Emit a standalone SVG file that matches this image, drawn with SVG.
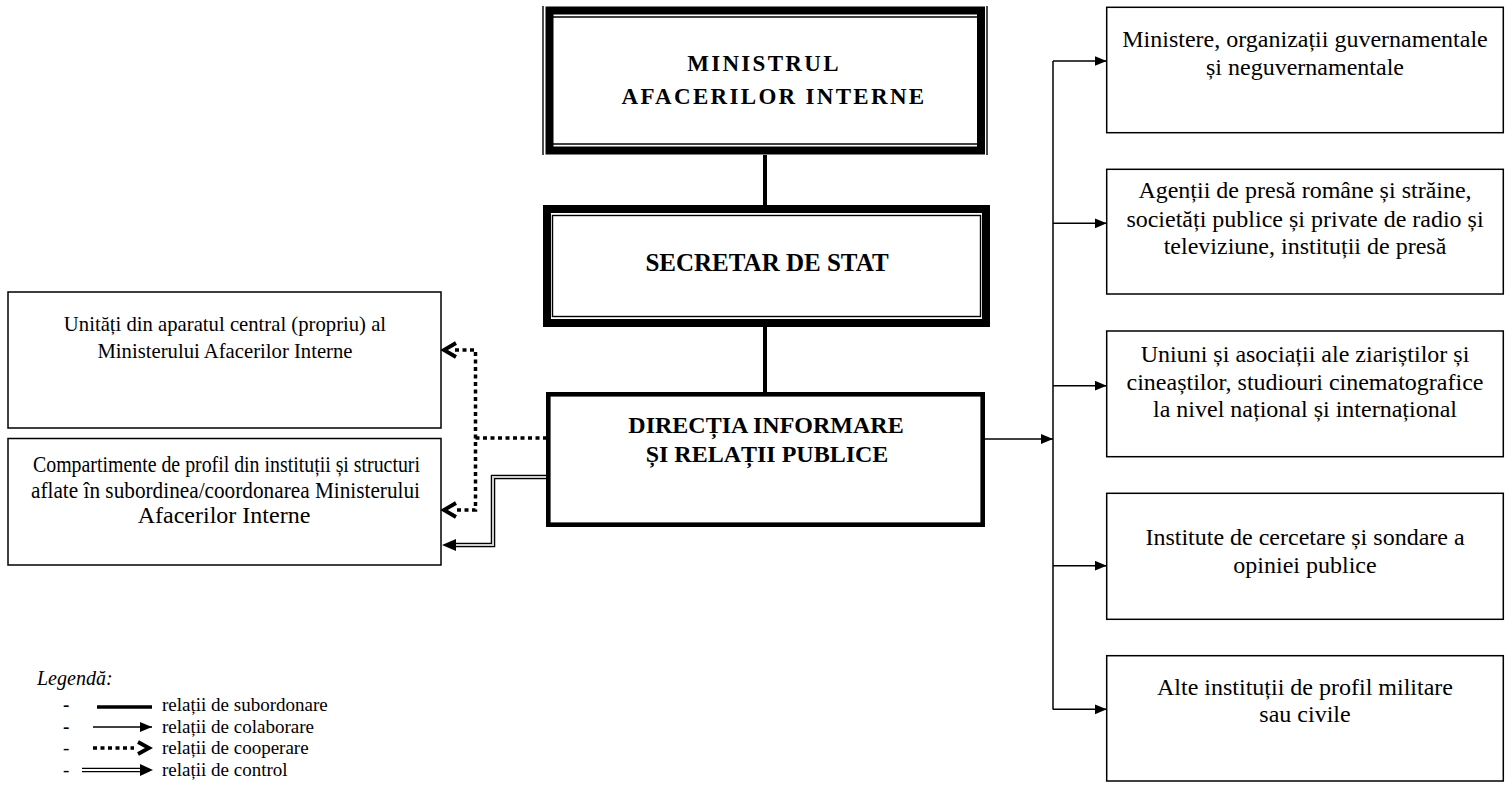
<svg xmlns="http://www.w3.org/2000/svg" width="1512" height="800" viewBox="0 0 1512 800">
<style>
  text { font-family: "Liberation Serif", "Times New Roman", serif; fill: #000; }
  .t { font-size: 24px; text-anchor: middle; }
  .tl { font-size: 20.7px; text-anchor: middle; }
  .b { font-weight: bold; text-anchor: middle; }
  .box { fill: #fff; stroke: #000; stroke-width: 1.5; }
  .thin { stroke: #000; stroke-width: 1.4; fill: none; }
  .thick { stroke: #000; fill: none; }
  .sub { stroke: #000; stroke-width: 4; fill: none; }
  .col { stroke: #000; stroke-width: 1.5; fill: none; }
  .dot { stroke: #000; stroke-width: 3.5; fill: none; stroke-dasharray: 4 3.5; }
  .chev { stroke: #000; stroke-width: 3.8; fill: none; stroke-linejoin: miter; }
  .dblo { stroke: #000; stroke-width: 4.5; fill: none; }
  .dbli { stroke: #cfcfcf; stroke-width: 2; fill: none; }
  .lg { font-size: 19px; }
</style>
<defs>
  <marker id="ah" markerUnits="userSpaceOnUse" markerWidth="13" markerHeight="11" refX="12" refY="5" orient="auto">
    <path d="M0,0 L12,5 L0,10 z" fill="#000"/>
  </marker>
</defs>
<rect width="1512" height="800" fill="#fff"/>

<g id="ministrul">
  <rect x="549.5" y="10.5" width="431.5" height="140" class="thick" stroke-width="8" fill="#fff"/>
  <line x1="543" y1="6" x2="543" y2="155" class="thin"/>
  <line x1="987" y1="6" x2="987" y2="155" class="thin"/>
  <line x1="553" y1="17" x2="977" y2="17" class="thin"/>
  <line x1="553" y1="144" x2="977" y2="144" class="thin"/>
  <text class="b" x="764" y="71" font-size="23" letter-spacing="2.3">MINISTRUL</text>
  <text class="b" x="774" y="104" font-size="23" letter-spacing="2.3">AFACERILOR INTERNE</text>
</g>

<g id="secretar">
  <rect x="547" y="209" width="439" height="114" class="thick" stroke-width="8" fill="#fff"/>
  <rect x="552.5" y="215.5" width="428" height="101" class="thin"/>
  <text class="b" x="767" y="271" font-size="25">SECRETAR DE STAT</text>
</g>

<g id="directia">
  <rect x="548.3" y="394.3" width="434.4" height="130.4" class="thick" stroke-width="4.6" fill="#fff"/>
  <text class="b" x="766" y="433" font-size="24">DIRECȚIA INFORMARE</text>
  <text class="b" x="767" y="462" font-size="24">ȘI RELAȚII PUBLICE</text>
</g>

<g id="unitati">
  <rect x="8" y="292" width="433" height="136" class="box"/>
  <text class="tl" x="225" y="331">Unități din aparatul central (propriu) al</text>
  <text class="tl" x="225" y="358">Ministerului Afacerilor Interne</text>
</g>

<g id="compartimente">
  <rect x="8" y="438.5" width="433" height="126.5" class="box"/>
  <text x="33" y="472" font-size="24" textLength="387" lengthAdjust="spacingAndGlyphs">Compartimente de profil din instituții și structuri</text>
  <text x="31" y="497.5" font-size="24" textLength="389" lengthAdjust="spacingAndGlyphs">aflate în subordinea/coordonarea Ministerului</text>
  <text class="t" x="224" y="523">Afacerilor Interne</text>
</g>

<g id="ministere">
  <rect x="1106.7" y="7.3" width="396.6" height="125.4" class="box"/>
  <text class="t" x="1305" y="47">Ministere, organizații guvernamentale</text>
  <text class="t" x="1305" y="75">și neguvernamentale</text>
</g>

<g id="agentii">
  <rect x="1106.7" y="169.3" width="396.6" height="124.7" class="box"/>
  <text class="t" x="1305" y="198">Agenții de presă române și străine,</text>
  <text class="t" x="1305" y="226.5">societăți publice și private de radio și</text>
  <text class="t" x="1305" y="254">televiziune, instituții de presă</text>
</g>

<g id="uniuni">
  <rect x="1106.7" y="331" width="396.6" height="125.7" class="box"/>
  <text class="t" x="1305" y="362">Uniuni și asociații ale ziariștilor și</text>
  <text class="t" x="1305" y="389.5">cineaștilor, studiouri cinematografice</text>
  <text class="t" x="1305" y="417">la nivel național și internațional</text>
</g>

<g id="institute">
  <rect x="1106.7" y="493.3" width="396.6" height="126" class="box"/>
  <text class="t" x="1305" y="545">Institute de cercetare și sondare a</text>
  <text class="t" x="1305" y="573">opiniei publice</text>
</g>

<g id="alte">
  <rect x="1106.7" y="655.7" width="396.6" height="125.3" class="box"/>
  <text class="t" x="1305" y="695">Alte instituții de profil militare</text>
  <text class="t" x="1305" y="722">sau civile</text>
</g>

<g id="connectors">
  <line x1="765" y1="155" x2="765" y2="205" class="sub"/>
  <line x1="765" y1="327" x2="765" y2="392" class="sub"/>
  <line x1="1053" y1="61" x2="1053" y2="709.5" class="col"/>
  <line x1="985" y1="439" x2="1053" y2="439" class="col" marker-end="url(#ah)"/>
  <line x1="1053" y1="61" x2="1106.7" y2="61" class="col" marker-end="url(#ah)"/>
  <line x1="1053" y1="223.3" x2="1106.7" y2="223.3" class="col" marker-end="url(#ah)"/>
  <line x1="1053" y1="385.7" x2="1106.7" y2="385.7" class="col" marker-end="url(#ah)"/>
  <line x1="1053" y1="565.7" x2="1106.7" y2="565.7" class="col" marker-end="url(#ah)"/>
  <line x1="1053" y1="709.3" x2="1106.7" y2="709.3" class="col" marker-end="url(#ah)"/>
  <path d="M455,350 H475.5 V510 H455" class="dot"/>
  <path d="M475.5,438 H546" class="dot"/>
  <polyline points="456,343 444,350 456,357" class="chev"/>
  <polyline points="456,503 444,510 456,517" class="chev"/>
  <path d="M546,477 H493 V545 H455" class="dblo"/>
  <path d="M546,477 H493 V545 H455" class="dbli"/>
  <path d="M442,545 L456,539 L456,551 z" fill="#000"/>
</g>

<g id="legend">
  <text x="37" y="685" font-size="20" font-style="italic">Legendă:</text>
  <text class="lg" x="63" y="711" font-weight="bold">-</text>
  <text class="lg" x="63" y="733" font-weight="bold">-</text>
  <text class="lg" x="63" y="754">-</text>
  <text class="lg" x="63" y="776">-</text>
  <line x1="97" y1="707" x2="152" y2="707" stroke="#000" stroke-width="3.5"/>
  <line x1="93" y1="727" x2="152" y2="727" class="col" marker-end="url(#ah)"/>
  <path d="M93,748 H134" class="dot" stroke-width="3" stroke-dasharray="3.5 3"/>
  <polyline points="138,742 149,748 138,754" class="chev"/>
  <line x1="82" y1="770" x2="141" y2="770" stroke="#000" stroke-width="4.5"/>
  <line x1="82" y1="770" x2="141" y2="770" stroke="#fff" stroke-width="1.8"/>
  <path d="M140,764 L153,770 L140,776 z" fill="#000"/>
  <text class="lg" x="162" y="711">relații de subordonare</text>
  <text class="lg" x="162" y="733">relații de colaborare</text>
  <text class="lg" x="162" y="754">relații de cooperare</text>
  <text class="lg" x="162" y="776">relații de control</text>
</g>
</svg>
